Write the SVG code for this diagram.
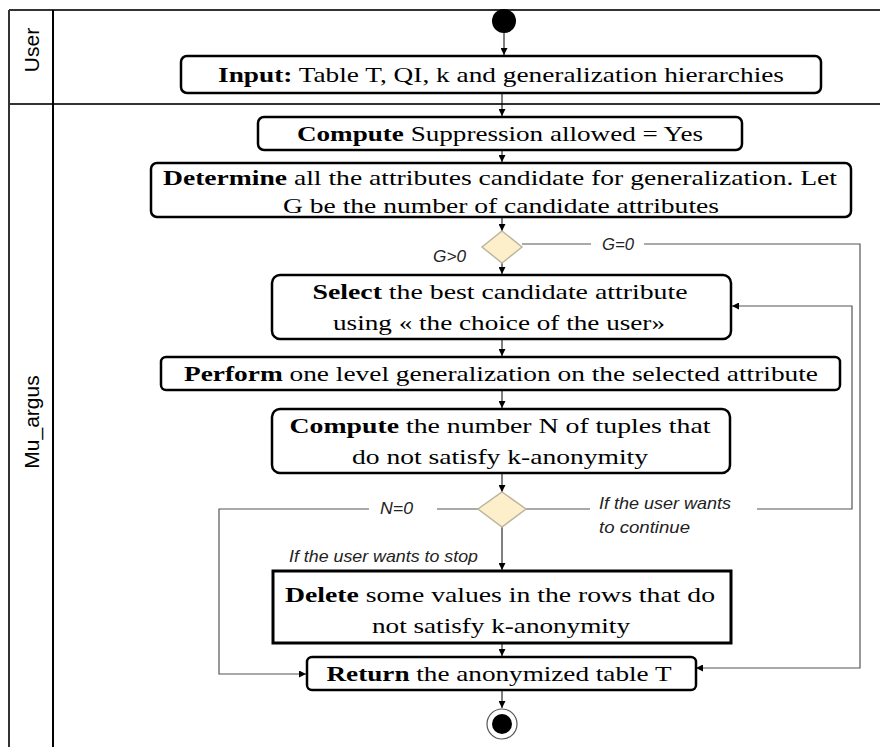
<svg xmlns="http://www.w3.org/2000/svg" width="880" height="747" viewBox="0 0 880 747">
<style>
.box{fill:#fff;stroke:#000;stroke-width:2.5}
.t{font-family:"Liberation Serif","DejaVu Serif",serif;font-size:21.5px;fill:#000;text-anchor:middle}
.b{font-weight:bold}
.lbl{font-family:"Liberation Sans","Noto Sans",sans-serif;font-style:italic;font-size:17px;fill:#222}
.lane{font-family:"Liberation Sans","Noto Sans",sans-serif;font-size:21px;fill:#000;text-anchor:middle}
.c{fill:none;stroke:#000;stroke-width:1}
.g{fill:none;stroke:#555;stroke-width:1.2}
.dia{fill:#fdefc9;stroke:#bdb59f;stroke-width:1.5}
</style>
<defs>
<marker id="ah" viewBox="0 0 10 10" refX="10" refY="5" markerWidth="7" markerHeight="7" markerUnits="userSpaceOnUse" orient="auto">
<path d="M0,0 L10,5 L0,10 z" fill="#000"/>
</marker>
</defs>
<rect width="880" height="747" fill="#fff"/>
<g id="lanes">
<line x1="9" y1="10" x2="880" y2="10" stroke="#333" stroke-width="2"/>
<line x1="9" y1="104" x2="880" y2="104" stroke="#333" stroke-width="2"/>
<line x1="9" y1="10" x2="9" y2="747" stroke="#333" stroke-width="2"/>
<line x1="53" y1="10" x2="53" y2="747" stroke="#000" stroke-width="2"/>
<text class="lane" transform="translate(39,50) rotate(-90)">User</text>
<text class="lane" transform="translate(39,422) rotate(-90)">Mu_argus</text>
</g>
<g id="connectors">
<line class="c" x1="504" y1="33" x2="504" y2="55" marker-end="url(#ah)"/>
<line class="c" x1="502" y1="93" x2="502" y2="116" marker-end="url(#ah)"/>
<line class="c" x1="502" y1="150" x2="502" y2="162" marker-end="url(#ah)"/>
<line class="c" x1="502" y1="217" x2="502" y2="231" marker-end="url(#ah)"/>
<line class="c" x1="502" y1="263" x2="502" y2="274" marker-end="url(#ah)"/>
<line class="c" x1="502" y1="339" x2="502" y2="356" marker-end="url(#ah)"/>
<line class="c" x1="502" y1="390" x2="502" y2="408" marker-end="url(#ah)"/>
<line class="c" x1="502" y1="473" x2="502" y2="492" marker-end="url(#ah)"/>
<line class="c" x1="502" y1="527" x2="502" y2="570" marker-end="url(#ah)"/>
<line class="c" x1="502" y1="643" x2="502" y2="656" marker-end="url(#ah)"/>
<line class="c" x1="502" y1="690" x2="502" y2="708" marker-end="url(#ah)"/>
<polyline class="g" points="522,244 591,244"/>
<polyline class="g" points="644,244 860,244 860,668 696,668" marker-end="url(#ah)"/>
<polyline class="g" points="526,509 590,509"/>
<polyline class="g" points="757,509 852,509 852,306 732,306" marker-end="url(#ah)"/>
<polyline class="g" points="478,509 437,509"/>
<polyline class="g" points="369,509 219,509 219,674 306,674" marker-end="url(#ah)"/>
<text class="lbl" x="433" y="262" textLength="33" lengthAdjust="spacingAndGlyphs">G&gt;0</text>
<text class="lbl" x="602" y="250" textLength="32" lengthAdjust="spacingAndGlyphs">G=0</text>
<text class="lbl" x="380" y="514" textLength="33" lengthAdjust="spacingAndGlyphs">N=0</text>
<text class="lbl" x="599" y="509" textLength="132" lengthAdjust="spacingAndGlyphs">If the user wants</text>
<text class="lbl" x="599" y="533" textLength="91" lengthAdjust="spacingAndGlyphs">to continue</text>
<text class="lbl" x="289" y="562" textLength="189" lengthAdjust="spacingAndGlyphs">If the user wants to stop</text>
</g>
<g id="start"><circle cx="504" cy="21" r="12" fill="#000"/></g>
<g id="input">
<rect class="box" x="181" y="56" width="640" height="37" rx="6"/>
<text class="t" x="501" y="82" textLength="566" lengthAdjust="spacingAndGlyphs"><tspan class="b">Input:</tspan> Table T, QI, k and generalization  hierarchies</text>
</g>
<g id="compute1">
<rect class="box" x="258" y="117" width="484" height="33" rx="6"/>
<text class="t" x="500" y="141" textLength="406" lengthAdjust="spacingAndGlyphs"><tspan class="b">Compute</tspan> Suppression  allowed = Yes</text>
</g>
<g id="determine">
<rect class="box" x="151" y="163" width="700" height="54" rx="6"/>
<text class="t" x="500" y="185" textLength="674" lengthAdjust="spacingAndGlyphs"><tspan class="b">Determine</tspan> all the attributes candidate for generalization.  Let</text>
<text class="t" x="501" y="213" textLength="436" lengthAdjust="spacingAndGlyphs">G be the number of candidate attributes</text>
</g>
<g id="decision1"><polygon class="dia" points="502,231 522,247 502,263 482,247"/></g>
<g id="select">
<rect class="box" x="272" y="275" width="459" height="64" rx="8"/>
<text class="t" x="500" y="299" textLength="375" lengthAdjust="spacingAndGlyphs"><tspan class="b">Select</tspan> the best candidate  attribute</text>
<text class="t" x="499" y="330" textLength="332" lengthAdjust="spacingAndGlyphs">using  « the choice of the user»</text>
</g>
<g id="perform">
<rect class="box" x="161" y="357" width="679" height="33" rx="5"/>
<text class="t" x="501" y="381" textLength="634" lengthAdjust="spacingAndGlyphs"><tspan class="b">Perform</tspan> one level generalization  on the selected attribute</text>
</g>
<g id="compute2">
<rect class="box" x="272" y="409" width="458" height="64" rx="8"/>
<text class="t" x="500" y="433" textLength="421" lengthAdjust="spacingAndGlyphs"><tspan class="b">Compute</tspan> the number N of tuples that</text>
<text class="t" x="500" y="464" textLength="296" lengthAdjust="spacingAndGlyphs">do not satisfy k-anonymity</text>
</g>
<g id="decision2"><polygon class="dia" points="502,492 526,509 502,527 478,509"/></g>
<g id="delete">
<rect x="273" y="571" width="458" height="72" fill="#fff" stroke="#000" stroke-width="3"/>
<text class="t" x="500" y="602" textLength="430" lengthAdjust="spacingAndGlyphs"><tspan class="b">Delete</tspan> some values in the rows that do</text>
<text class="t" x="501" y="633" textLength="258" lengthAdjust="spacingAndGlyphs">not satisfy k-anonymity</text>
</g>
<g id="return">
<rect class="box" x="307" y="657" width="389" height="33" rx="5"/>
<text class="t" x="499" y="681" textLength="345" lengthAdjust="spacingAndGlyphs"><tspan class="b">Return</tspan> the anonymized  table T</text>
</g>
<g id="end">
<circle cx="502" cy="724" r="15" fill="#fff" stroke="#555" stroke-width="1.2"/>
<circle cx="502" cy="724" r="10" fill="#000"/>
</g>
</svg>
